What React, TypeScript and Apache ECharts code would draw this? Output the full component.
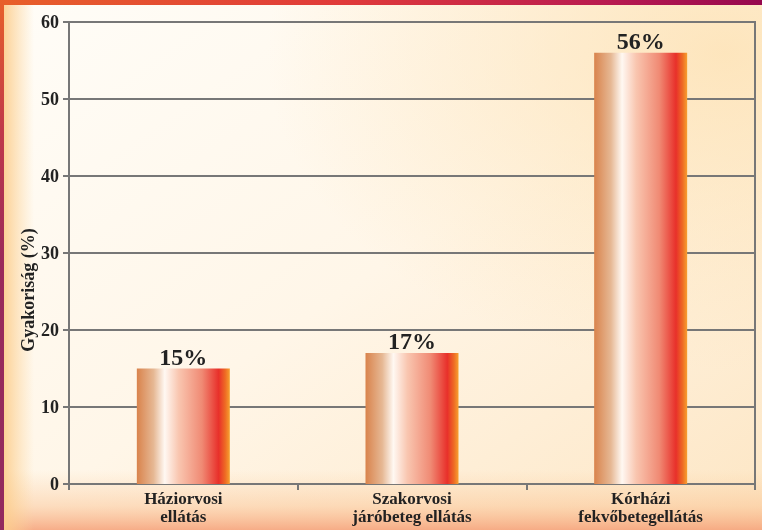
import React, { useEffect, useRef } from "react";
import * as echarts from "echarts";

const categories = ["Háziorvosi\nellátás", "Szakorvosi\njáróbeteg ellátás", "Kórházi\nfekvőbetegellátás"];
const values = [15, 17, 56];
const yAxisTitle = "Gyakoriság (%)";

const SERIF = "'Liberation Serif', 'DejaVu Serif', serif";

export default function App() {
  const ref = useRef<HTMLDivElement>(null);
  useEffect(() => {
    document.body.style.margin = "0";
    const chart = echarts.init(ref.current!, null, { renderer: "svg" });
    const barGrad = new echarts.graphic.LinearGradient(0, 0, 1, 0, [
      { offset: 0, color: "#d9834c" },
      { offset: 0.18, color: "#e6b894" },
      { offset: 0.3, color: "#fff8f2" },
      { offset: 0.45, color: "#f9c6b0" },
      { offset: 0.7, color: "#f08a74" },
      { offset: 0.88, color: "#e8302a" },
      { offset: 0.95, color: "#ee6a24" },
      { offset: 1, color: "#f7a030" },
    ]);
    chart.setOption({
      animation: false,
      graphic: [
        {
          type: "rect", z: -10, silent: true,
          shape: { x: 0, y: 0, width: 762, height: 530 },
          style: {
            fill: new echarts.graphic.LinearGradient(0, 0, 1, 1, [
              { offset: 0, color: "#fffdf8" },
              { offset: 0.5, color: "#fff6e8" },
              { offset: 1, color: "#fde6c4" },
            ]),
          },
        },
        {
          type: "rect", z: -9, silent: true,
          shape: { x: 0, y: 0, width: 762, height: 530 },
          style: {
            fill: new echarts.graphic.RadialGradient(0.95, 0.1, 0.6, [
              { offset: 0, color: "rgba(253,224,175,0.75)" },
              { offset: 1, color: "rgba(253,224,175,0)" },
            ]),
          },
        },
        {
          type: "rect", z: -8, silent: true,
          shape: { x: 0, y: 470, width: 762, height: 60 },
          style: {
            fill: new echarts.graphic.LinearGradient(0, 0, 0, 1, [
              { offset: 0, color: "rgba(250,200,150,0)" },
              { offset: 0.6, color: "rgba(250,190,140,0.45)" },
              { offset: 1, color: "rgba(245,160,120,0.85)" },
            ]),
          },
        },
        {
          type: "rect", z: -8, silent: true,
          shape: { x: 4, y: 0, width: 30, height: 530 },
          style: {
            fill: new echarts.graphic.LinearGradient(0, 0, 1, 0, [
              { offset: 0, color: "rgba(252,205,140,0.9)" },
              { offset: 1, color: "rgba(252,215,160,0)" },
            ]),
          },
        },
        {
          type: "rect", z: 10, silent: true,
          shape: { x: 0, y: 0, width: 762, height: 5 },
          style: {
            fill: new echarts.graphic.LinearGradient(0, 0, 1, 0, [
              { offset: 0, color: "#e8602a" },
              { offset: 0.45, color: "#e03a3a" },
              { offset: 0.8, color: "#b81a50" },
              { offset: 1, color: "#96084e" },
            ]),
          },
        },
        {
          type: "rect", z: 10, silent: true,
          shape: { x: 0, y: 0, width: 4, height: 530 },
          style: {
            fill: new echarts.graphic.LinearGradient(0, 0, 0, 1, [
              { offset: 0, color: "#e8602a" },
              { offset: 0.25, color: "#c0384a" },
              { offset: 0.5, color: "#9a2a5a" },
              { offset: 1, color: "#922a5e" },
            ]),
          },
        },
        {
          type: "text", z: 10,
          x: 28, y: 290, rotation: Math.PI / 2,
          style: {
            text: yAxisTitle,
            fill: "#222",
            font: `bold 18px ${SERIF}`,
            align: "center",
            verticalAlign: "middle",
          },
        },
      ],
      grid: {
        left: 69, right: 7, top: 22, bottom: 46,
        show: true,
        borderColor: "#777",
        borderWidth: 2,
        backgroundColor: "transparent",
      },
      xAxis: {
        type: "category",
        data: categories,
        axisLine: { lineStyle: { color: "#777", width: 2 } },
        axisTick: { show: true, inside: false, length: 6, lineStyle: { color: "#777", width: 2 } },
        axisLabel: {
          color: "#222",
          fontFamily: SERIF,
          fontWeight: "bold",
          fontSize: 17,
          lineHeight: 18,
          margin: 5,
        },
      },
      yAxis: {
        type: "value",
        min: 0, max: 60, interval: 10,
        axisLine: { show: true, lineStyle: { color: "#777", width: 2 } },
        axisTick: { show: true, length: 6, lineStyle: { color: "#777", width: 2 } },
        splitLine: { lineStyle: { color: "#777", width: 2 } },
        axisLabel: {
          color: "#222",
          fontFamily: SERIF,
          fontWeight: "bold",
          fontSize: 18,
          margin: 10,
        },
      },
      series: [
        {
          type: "bar",
          data: values,
          barWidth: 93,
          itemStyle: { color: barGrad },
          label: {
            show: true,
            position: "top",
            distance: 0,
            formatter: "{c}%",
            color: "#222",
            fontFamily: SERIF,
            fontWeight: "bold",
            fontSize: 24,
          },
        },
      ],
    });
    return () => chart.dispose();
  }, []);
  return (
    <div
      ref={ref}
      style={{ position: "fixed", left: 0, top: 0, width: 762, height: 530 }}
    />
  );
}
